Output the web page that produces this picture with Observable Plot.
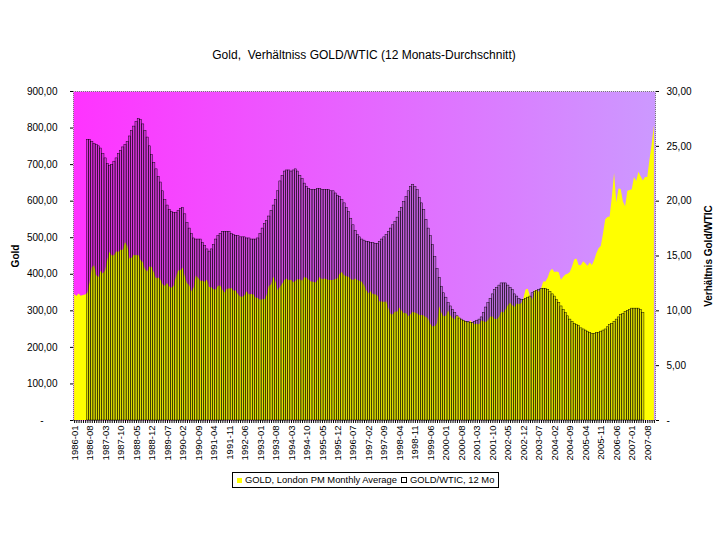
<!DOCTYPE html>
<html>
<head>
<meta charset="utf-8">
<script src="https://cdn.jsdelivr.net/npm/d3@7"></script>
<script src="https://cdn.jsdelivr.net/npm/@observablehq/plot@0.6"></script>
<style>
  body { margin: 0; background: #fff; font-family: Arial, "Liberation Sans", sans-serif; }
  #wrap { position: relative; width: 720px; height: 540px; overflow: hidden; }
  #chart { position: absolute; left: 0; top: 0; }
  #title { position: absolute; top: 48px; left: 0; width: 728px; text-align: center; font-size: 12px; color: #000; white-space: pre; }
  .ylab { position: absolute; font-size: 10px; font-weight: bold; white-space: nowrap; transform: translate(-50%, -50%) rotate(-90deg); }
  #legend { position: absolute; left: 232px; top: 472px; width: 265px; height: 14px; border: 1px solid #000; font-size: 9.4px; line-height: 14px; white-space: nowrap; box-sizing: content-box; overflow: hidden; }
  .sw { display: inline-block; width: 5px; height: 5px; margin: 0 3px 0 4px; vertical-align: 0px; }
</style>
</head>
<body>
<div id="wrap">
  <div id="chart"></div>
  <div id="title">Gold,  Verhältniss GOLD/WTIC (12 Monats-Durchschnitt)</div>
  <div class="ylab" style="left:15px; top:256px;">Gold</div>
  <div class="ylab" style="left:708px; top:256px;">Verhältnis Gold/WTIC</div>
  <div id="legend"><span class="sw" style="background:#ffff00;"></span>GOLD, London PM Monthly Average<span class="sw" style="width:4px;height:4px;border:1px solid #000;background:#fff;"></span>GOLD/WTIC, 12 Mo</div>
</div>
<script>
// ---- categories: monthly, 1986-01 .. 2007-11
const firstMonth = "1986-01";
const lastMonth = "2007-11";
const months = d3.utcMonth.range(new Date(Date.UTC(1986, 0, 1)), new Date(Date.UTC(2007, 11, 1))).map(d3.utcFormat("%Y-%m"));

// ---- GOLD, London PM Monthly Average (USD), 1986-01 .. 2007-11
const gold = [
  345, 339, 346, 340, 342, 343, 348, 376, 418, 423, 396, 391, // 1986
  408, 401, 409, 438, 460, 450, 451, 461, 460, 466, 466, 487, // 1987
  477, 442, 444, 452, 451, 452, 437, 432, 413, 406, 420, 419, // 1988
  404, 388, 390, 384, 371, 367, 375, 365, 362, 367, 392, 409, // 1989
  410, 417, 393, 374, 369, 352, 362, 395, 389, 381, 381, 378, // 1990
  384, 364, 363, 358, 357, 367, 368, 356, 349, 359, 360, 361, // 1991
  354, 354, 345, 338, 337, 341, 352, 343, 345, 344, 335, 334, // 1992
  329, 330, 330, 342, 367, 371, 392, 379, 355, 364, 373, 383, // 1993
  387, 382, 384, 377, 381, 385, 385, 381, 391, 389, 384, 379, // 1994
  378, 376, 382, 391, 385, 387, 386, 383, 383, 383, 386, 387, // 1995
  400, 405, 396, 393, 392, 385, 383, 387, 383, 381, 378, 369, // 1996
  355, 347, 352, 344, 344, 341, 324, 324, 323, 325, 306, 289, // 1997
  289, 297, 296, 308, 299, 292, 293, 284, 289, 296, 294, 291, // 1998
  287, 287, 286, 282, 277, 262, 256, 257, 265, 311, 293, 284, // 1999
  285, 300, 286, 280, 275, 286, 282, 275, 273, 270, 266, 272, // 2000
  266, 262, 263, 261, 272, 270, 268, 273, 283, 283, 276, 276, // 2001
  282, 296, 294, 303, 314, 321, 314, 310, 319, 317, 319, 333, // 2002
  357, 359, 340, 328, 355, 356, 351, 360, 379, 379, 390, 407, // 2003
  414, 405, 406, 404, 384, 392, 398, 400, 405, 420, 439, 442, // 2004
  424, 423, 434, 429, 422, 431, 424, 438, 456, 470, 476, 510, // 2005
  549, 555, 557, 610, 676, 596, 633, 632, 598, 585, 627, 629, // 2006
  631, 665, 654, 679, 667, 655, 665, 665, 712, 754, 806       // 2007
];

// ---- GOLD/WTIC ratio, 12-month average, 1986-07 .. 2007-06
const ratioStart = "1986-07";
const ratio = [
                          25.6, 25.6, 25.4, 25.2, 25.1, 25.0, // 1986
  24.8, 24.3, 23.9, 23.4, 23.2, 23.3, 23.6, 23.9, 24.3, 24.6, 24.9, 25.1, // 1987
  25.4, 25.9, 26.4, 26.8, 27.2, 27.5, 27.4, 27.0, 26.4, 25.8, 25.0, 24.2, // 1988
  23.5, 22.9, 22.2, 21.7, 20.9, 20.1, 19.6, 19.2, 19.0, 18.9, 18.9, 19.1, // 1989
  19.3, 19.4, 18.8, 18.0, 17.5, 17.0, 16.6, 16.5, 16.5, 16.5, 16.2, 15.9, // 1990
  15.6, 15.4, 15.6, 16.0, 16.5, 16.8, 17.0, 17.2, 17.2, 17.2, 17.2, 17.0, // 1991
  16.9, 16.8, 16.8, 16.7, 16.7, 16.7, 16.6, 16.6, 16.5, 16.5, 16.5, 16.6, // 1992
  17.0, 17.5, 17.9, 18.2, 18.6, 19.1, 19.6, 20.1, 20.9, 21.8, 22.3, 22.7, // 1993
  22.8, 22.8, 22.7, 22.8, 22.9, 22.7, 22.3, 22.0, 21.6, 21.3, 21.1, 21.0, // 1994
  21.0, 21.0, 21.1, 21.1, 21.0, 21.0, 21.0, 21.0, 20.9, 20.9, 20.7, 20.5, // 1995
  20.4, 20.1, 19.8, 19.4, 19.0, 18.4, 17.8, 17.3, 16.9, 16.7, 16.5, 16.4, // 1996
  16.3, 16.3, 16.2, 16.2, 16.1, 16.1, 16.3, 16.5, 16.7, 16.9, 17.2, 17.5, // 1997
  17.8, 18.1, 18.5, 19.0, 19.4, 19.9, 20.4, 20.9, 21.3, 21.5, 21.3, 21.0, // 1998
  20.3, 19.8, 19.2, 18.3, 17.5, 16.8, 16.0, 14.9, 13.8, 13.0, 12.2, 11.6, // 1999
  11.2, 10.7, 10.4, 10.1,  9.8,  9.5,  9.3,  9.2,  9.1,  9.0,  9.0,  8.9, // 2000
   8.9,  9.0,  9.1,  9.2,  9.4,  9.8, 10.3, 10.7, 11.1, 11.5, 11.9, 12.1, // 2001
  12.3, 12.5, 12.5, 12.5, 12.3, 12.1, 11.9, 11.5, 11.3, 11.1, 11.0, 11.0, // 2002
  11.1, 11.2, 11.3, 11.6, 11.7, 11.8, 11.9, 12.0, 12.0, 12.0, 11.9, 11.7, // 2003
  11.5, 11.3, 11.0, 10.7, 10.4, 10.1,  9.8,  9.5,  9.2,  9.0,  8.8,  8.7, // 2004
   8.6,  8.4,  8.3,  8.2,  8.1,  8.0,  7.9,  7.9,  8.0,  8.0,  8.1,  8.2, // 2005
   8.3,  8.5,  8.7,  8.8,  9.0,  9.2,  9.4,  9.6,  9.7,  9.9, 10.0, 10.1, // 2006
  10.2, 10.2, 10.2, 10.2, 10.1,  9.8                                      // 2007
];

// ---- tick values
const goldTicks = [0, 100, 200, 300, 400, 500, 600, 700, 800, 900];
const ratioTicks = [0, 5, 10, 15, 20, 25, 30];
const labelEvery = 7;

// ---- build tables for the library
const r0 = months.indexOf(ratioStart);
const goldData = gold.map((v, i) => ({i, month: months[i], v}));
const ratioData = ratio.map((v, k) => ({i: k + r0, month: months[k + r0], v}));
const goldMax = goldTicks[goldTicks.length - 1];
const ratioMax = ratioTicks[ratioTicks.length - 1];
const k = goldMax / ratioMax; // right axis maps onto the left one
const n = months.length;

const fmt = d => d === 0 ? "-\u00a0\u00a0\u00a0\u00a0\u00a0" : d.toFixed(2).replace(".", ",");
const fmtR = d => d === 0 ? "-" : d.toFixed(2).replace(".", ",");

const chart = Plot.plot({
  width: 720,
  height: 500,
  marginTop: 91,
  marginRight: 65,
  marginBottom: 80,
  marginLeft: 73,
  style: {fontFamily: "Arial, 'Liberation Sans', sans-serif", fontSize: "10px", background: "transparent", color: "#000"},
  x: {type: "linear", domain: [-0.5, n - 0.5], axis: null},
  y: {domain: [0, goldMax], axis: null},
  marks: [
    Plot.frame({fill: "url(#bgGrad)", stroke: "none"}),
    Plot.areaY(goldData, {x: "i", y: "v", fill: "#ffff00"}),
    Plot.rect(ratioData, {x1: d => d.i - 0.5, x2: d => d.i + 0.5, y1: 0, y2: d => d.v * k, fill: "black", fillOpacity: 0.14, stroke: "black", strokeWidth: 0.45}),
    Plot.ruleY([goldMax], {stroke: "#777", strokeDasharray: "1,1"}),
    Plot.ruleX([-0.5, n - 0.5], {stroke: "#777", strokeDasharray: "1,1"}),
    Plot.ruleY([0], {stroke: "#777", strokeDasharray: "1,1"}),
    Plot.axisY({anchor: "left", ticks: goldTicks, tickFormat: fmt, tickSize: 3, tickPadding: 13, label: null, fontSize: 10}),
    Plot.axisY({anchor: "right", ticks: ratioTicks.map(v => v * k), tickFormat: d => fmtR(d / k), tickSize: 3, tickPadding: 8, label: null, fontSize: 10}),
    Plot.axisX({ticks: d3.range(n), tickFormat: () => "", tickSize: 3, label: null}),
    Plot.axisX({ticks: d3.range(0, n, labelEvery), tickFormat: i => months[i], tickRotate: -90, tickSize: 0, tickPadding: 5, label: null, fontSize: 9.5})
  ]
});

const defs = d3.select(chart).insert("defs", ":first-child");
const grad = defs.append("linearGradient").attr("id", "bgGrad").attr("x1", 0).attr("x2", 1).attr("y1", 0).attr("y2", 0);
grad.append("stop").attr("offset", 0).attr("stop-color", "#ff33ff");
grad.append("stop").attr("offset", 1).attr("stop-color", "#cc99ff");

document.getElementById("chart").appendChild(chart);
</script>
</body>
</html>
